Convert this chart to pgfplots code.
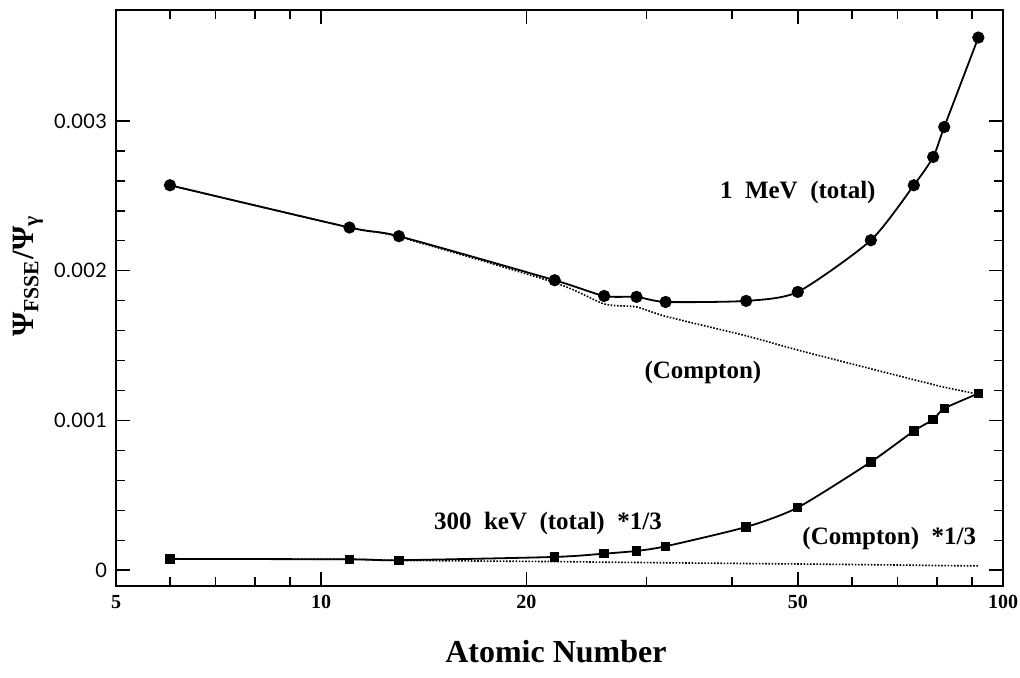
\documentclass[border=0pt]{standalone}
\usepackage{pgfplots}
\pgfplotsset{compat=1.18}
\usepackage{fontspec}
\setmainfont{Liberation Serif}
\newfontfamily\tickfont[LetterSpace=2]{Lato}

\pgfplotstableread{
Z   tot       comp
6   0.002570  0.002570
11  0.002288  0.002288
13  0.002230  0.002226
22  0.001936  0.001920
26  0.001831  0.001778
29  0.001825  0.001758
32  0.001791  0.001695
42  0.001798  0.001565
50  0.001858  0.001470
64  0.002203  0.001345
74  0.002570  0.001272
79  0.002759  0.001240
82  0.002959  0.001222
92  0.003556  0.001175
}\mev

\pgfplotstableread{
Z   tot       comp
6   0.000076  0.000076
11  0.000073  0.000073
13  0.000067  0.000066
22  0.000089  0.000058
26  0.000111  0.000054
29  0.000129  0.000052
32  0.000160  0.000050
42  0.000289  0.000045
50  0.000419  0.000042
64  0.000723  0.000037
74  0.000930  0.000034
79  0.001006  0.000032
82  0.001080  0.000031
92  0.001180  0.000029
}\kev

\begin{document}
\begin{tikzpicture}
\useasboundingbox (0,0) rectangle (510pt,339pt);
\begin{axis}[
  at={(58pt,46pt)}, anchor=south west,
  scale only axis, width=443.5pt, height=288pt,
  xmode=log, xmin=5, xmax=100,
  ymin=-0.000105, ymax=0.00374,
  axis line style={line width=1pt},
  xtick={5,10,20,50,100},
  xticklabels={5,10,20,50,100},
  minor xtick={6,7,8,9,30,40,60,70,80,90},
  ytick={0,0.001,0.002,0.003},
  yticklabels={0,0.001,0.002,0.003},
  minor y tick num=4,
  scaled y ticks=false,
  tick align=inside,
  major tick length=7pt,
  minor tick length=4.5pt,
  every tick/.style={black, line width=0.8pt},
  /pgf/number format/assume math mode=true,
  xticklabel style={font=\fontsize{10}{12}\selectfont\bfseries, yshift=-1pt},
  yticklabel style={font=\fontsize{10}{12}\selectfont\tickfont, xshift=-1pt},
  xlabel={Atomic Number},
  xlabel style={font=\fontsize{16}{19}\selectfont\bfseries, at={(axis description cs:0.496,-0.1146)}, anchor=center},
  ylabel={Ψ\textsubscript{FSSE}/Ψ\textsubscript{γ}},
  ylabel style={font=\fontsize{15.5}{18}\selectfont\bfseries, at={(axis description cs:-0.099,0.538)}, anchor=center, rotate=0},
  clip=false,
]
\addplot[black, line width=0.8pt, dash pattern=on 0.8pt off 0.8pt, smooth, tension=0.4] table[x=Z, y=comp] {\mev};
\addplot[black, line width=0.8pt, dash pattern=on 0.8pt off 0.8pt, smooth, tension=0.4] table[x=Z, y=comp] {\kev};
\addplot[black, line width=0.9pt, smooth, tension=0.4, mark=*, mark size=2.6pt, mark options={solid, fill=black}] table[x=Z, y=tot] {\mev};
\addplot[black, line width=0.9pt, smooth, tension=0.4, mark=square*, mark size=1.9pt, mark options={solid, fill=black}] table[x=Z, y=tot] {\kev};
\node[font=\fontsize{12.5}{15}\selectfont\bfseries] at (axis cs:50,0.00252) {1\ \ MeV\ \ (total)};
\node[font=\fontsize{12.5}{15}\selectfont\bfseries] at (axis cs:36.3,0.00132) {(Compton)};
\node[font=\fontsize{12.5}{15}\selectfont\bfseries] at (axis cs:21.5,0.000314) {300\ \ keV\ \ (total)\ \ *1/3};
\node[font=\fontsize{12.5}{15}\selectfont\bfseries, anchor=east] at (axis cs:93.5,0.00021) {(Compton)\ \ *1/3};
\end{axis}
\end{tikzpicture}
\end{document}
